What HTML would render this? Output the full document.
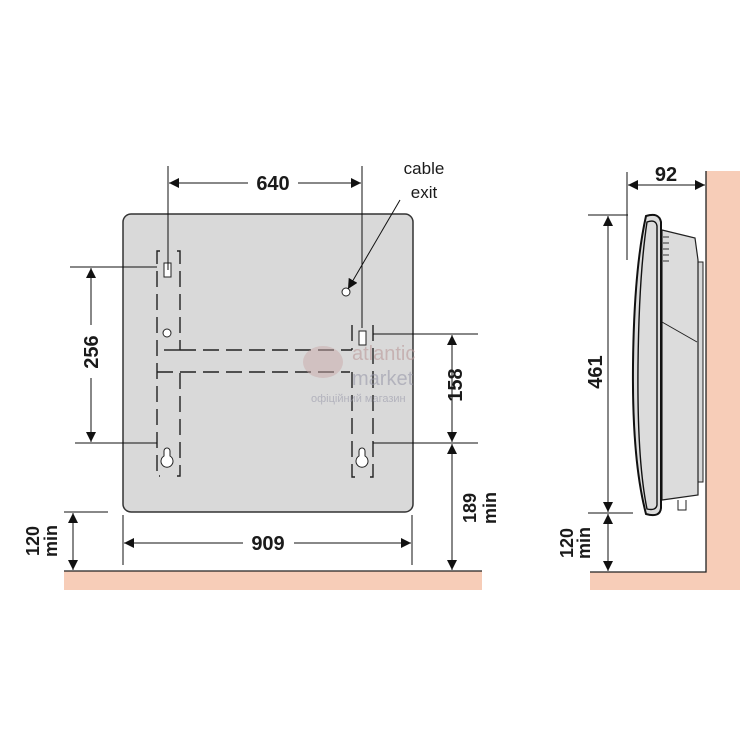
<!DOCTYPE html>
<html><head><style>
html,body{margin:0;padding:0;background:#fff;}
svg{display:block;}
text{font-family:"Liberation Sans",sans-serif;font-weight:bold;fill:#1a1a1a;}
</style></head><body>
<svg width="750" height="750" viewBox="0 0 750 750" xmlns="http://www.w3.org/2000/svg">
<defs>
<marker id="a" viewBox="0 0 10 10" refX="10" refY="5" markerWidth="10" markerHeight="10" markerUnits="userSpaceOnUse" orient="auto-start-reverse"><path d="M0,0 L10,5 L0,10 z" fill="#111"/></marker>
</defs>
<rect x="64" y="571" width="418" height="19" fill="#f7cdb8"/>
<line x1="64" y1="571" x2="482" y2="571" stroke="#222" stroke-width="1.3"/>
<rect x="123" y="214" width="290" height="298" rx="8" fill="#d9d9d9" stroke="#333" stroke-width="1.5"/>
<g fill="none" stroke="#222" stroke-width="1.4" stroke-dasharray="16,7">
<path d="M160,251 H157 V476 H160"/>
<path d="M177,251 H180 V350"/>
<path d="M180,350 H157"/>
<path d="M180,350 H352"/>
<path d="M157,372 H350"/>
<path d="M180,373 V476 H177"/>
<path d="M352,325 V350"/>
<path d="M373,325 V372"/>
<path d="M352,372 V477 H355"/>
<path d="M373,372 V477 H370"/>
</g>
<rect x="164" y="263" width="7" height="14" fill="#fff" stroke="#222" stroke-width="1"/>
<rect x="359" y="331" width="7" height="14" fill="#fff" stroke="#222" stroke-width="1"/>
<circle cx="167" cy="333" r="4" fill="#fff" stroke="#222"/>
<circle cx="346" cy="292" r="4" fill="#fff" stroke="#222"/>
<path d="M164,456 a6,6 0 1,0 6,0 v-5 a3,3 0 0,0 -6,0 z" fill="#fff" stroke="#222"/>
<path d="M359,456 a6,6 0 1,0 6,0 v-5 a3,3 0 0,0 -6,0 z" fill="#fff" stroke="#222"/>
<ellipse cx="323" cy="362" rx="20" ry="16" fill="#c9a9a9" opacity="0.5"/>
<text x="352" y="360" style="font-size:20px;fill:#b99;font-weight:normal;opacity:0.6">atlantic</text>
<text x="352" y="385" style="font-size:20px;fill:#99a;font-weight:normal;opacity:0.6">market</text>
<text x="311" y="402" style="font-size:11px;fill:#99a;font-weight:normal;opacity:0.6">офіційний магазин</text>
<g stroke="#111" stroke-width="1" fill="none">
<line x1="168" y1="166" x2="168" y2="270"/>
<line x1="362" y1="166" x2="362" y2="328"/>
<line x1="169" y1="183" x2="248" y2="183" marker-start="url(#a)"/>
<line x1="298" y1="183" x2="361" y2="183" marker-end="url(#a)"/>
<line x1="400" y1="200" x2="348" y2="289" marker-end="url(#a)"/>
<line x1="70" y1="267" x2="157" y2="267"/>
<line x1="75" y1="443" x2="157" y2="443"/>
<line x1="91" y1="268" x2="91" y2="325" marker-start="url(#a)"/>
<line x1="91" y1="378" x2="91" y2="442" marker-end="url(#a)"/>
<line x1="373" y1="334" x2="478" y2="334"/>
<line x1="373" y1="443" x2="478" y2="443"/>
<line x1="452" y1="335" x2="452" y2="442" marker-start="url(#a)" marker-end="url(#a)"/>
<line x1="452" y1="444" x2="452" y2="570" marker-start="url(#a)" marker-end="url(#a)"/>
<line x1="123" y1="515" x2="123" y2="565"/>
<line x1="412" y1="515" x2="412" y2="565"/>
<line x1="124" y1="543" x2="243" y2="543" marker-start="url(#a)"/>
<line x1="294" y1="543" x2="411" y2="543" marker-end="url(#a)"/>
<line x1="64" y1="512" x2="108" y2="512"/>
<line x1="73" y1="513" x2="73" y2="570" marker-start="url(#a)" marker-end="url(#a)"/>
</g>
<text x="273" y="190" text-anchor="middle" style="font-size:20px">640</text>
<text x="424" y="174" text-anchor="middle" style="font-size:17px;font-weight:normal">cable</text>
<text x="424" y="198" text-anchor="middle" style="font-size:17px;font-weight:normal">exit</text>
<text transform="translate(98,352) rotate(-90)" text-anchor="middle" style="font-size:20px">256</text>
<text transform="translate(462,385) rotate(-90)" text-anchor="middle" style="font-size:20px">158</text>
<text transform="translate(476,508) rotate(-90)" text-anchor="middle" style="font-size:18px">189</text>
<text transform="translate(496,508) rotate(-90)" text-anchor="middle" style="font-size:18px">min</text>
<text x="268" y="550" text-anchor="middle" style="font-size:20px">909</text>
<text transform="translate(39,541) rotate(-90)" text-anchor="middle" style="font-size:18px">120</text>
<text transform="translate(57,541) rotate(-90)" text-anchor="middle" style="font-size:18px">min</text>
<rect x="706" y="171" width="34" height="419" fill="#f7cdb8"/>
<rect x="590" y="572" width="150" height="18" fill="#f7cdb8"/>
<path d="M706,171 V572 H590" fill="none" stroke="#222" stroke-width="1.3"/>
<rect x="695" y="262" width="8" height="220" fill="#d8d8d8" stroke="#222"/>
<path d="M662,230 L695,238 L698,260 L698,495 L662,500 Z" fill="#dcdcdc" stroke="#222" stroke-width="1.2"/>
<path d="M662,322 L697,342" stroke="#222" fill="none"/>
<path d="M678,500 v10 h8 v-10" fill="none" stroke="#222"/>
<g stroke="#333" stroke-width="1"><line x1="663" y1="237" x2="669" y2="237"/><line x1="663" y1="243" x2="669" y2="243"/><line x1="663" y1="249" x2="669" y2="249"/><line x1="663" y1="255" x2="669" y2="255"/><line x1="663" y1="261" x2="669" y2="261"/></g>
<path d="M646,216 Q659,212 661,222 L661,508 Q660,518 646,514 Q632,460 633,365 Q634,270 646,216 Z" fill="#dcdcdc" stroke="#111" stroke-width="2"/>
<path d="M647,222 Q656,219 657,226 L657,505 Q656,511 647,509 Q637,460 638,365 Q639,275 647,222 Z" fill="none" stroke="#111" stroke-width="1.4"/>
<g stroke="#111" stroke-width="1" fill="none">
<line x1="627" y1="172" x2="627" y2="260"/>
<line x1="628" y1="185" x2="705" y2="185" marker-start="url(#a)" marker-end="url(#a)"/>
<line x1="588" y1="215" x2="628" y2="215"/>
<line x1="588" y1="513" x2="633" y2="513"/>
<line x1="608" y1="216" x2="608" y2="512" marker-start="url(#a)" marker-end="url(#a)"/>
<line x1="608" y1="514" x2="608" y2="571" marker-start="url(#a)" marker-end="url(#a)"/>
</g>
<text x="666" y="181" text-anchor="middle" style="font-size:20px">92</text>
<text transform="translate(602,372) rotate(-90)" text-anchor="middle" style="font-size:20px">461</text>
<text transform="translate(573,543) rotate(-90)" text-anchor="middle" style="font-size:18px">120</text>
<text transform="translate(590,543) rotate(-90)" text-anchor="middle" style="font-size:18px">min</text>
</svg>
</body></html>
